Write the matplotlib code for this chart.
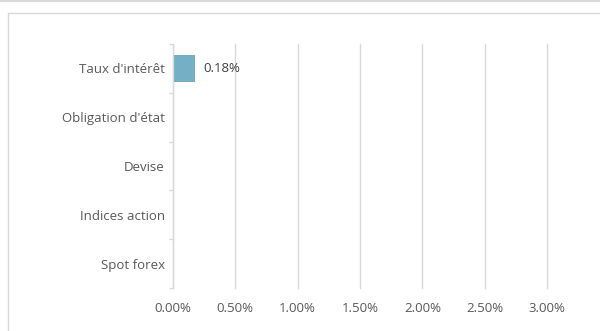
import matplotlib
matplotlib.use("Agg")
import matplotlib.pyplot as plt
from matplotlib.patches import Rectangle
from matplotlib.lines import Line2D
from matplotlib.ticker import FuncFormatter, FixedLocator

categories = ["Taux d'intérêt", "Obligation d'état", "Devise", "Indices action", "Spot forex"]
values = [0.0018, None, None, None, None]
xticks = [0.0, 0.005, 0.01, 0.015, 0.02, 0.025, 0.03]

plt.rcParams['font.family'] = ['Open Sans', 'DejaVu Sans']
txt = '#595959'
grid = '#d9d9d9'
fs = 9.5

fig = plt.figure(figsize=(6.0, 3.31), dpi=100)
# outer chart border
fig.add_artist(Rectangle((8/600, -0.01), 1.2, 1 - 13/331 + 0.01, transform=fig.transFigure,
                         fill=False, edgecolor='#d9d9d9', lw=1.0))
fig.add_artist(Line2D([0, 1], [1 - 0.5/331, 1 - 0.5/331], transform=fig.transFigure, color='#d9d9d9', lw=1.5))

ax = fig.add_axes([173/600, 1 - 288/331, (547 - 173)/600, (288 - 44)/331])
n = len(categories)
ypos = list(range(n))
for y, v in zip(ypos, values):
    if v is not None:
        ax.barh(y, v, height=0.55, color='#75AFC5')
        ax.text(v + 0.0006, y, f"{v*100:.2f}%", va='center', ha='left', fontsize=fs, color='#404040')

ax.set_xlim(0, 0.03)
ax.set_ylim(n - 0.5, -0.5)
ax.set_xticks(xticks)
ax.xaxis.set_major_formatter(FuncFormatter(lambda x, p: f"{x*100:.2f}%"))
ax.grid(axis='x', color=grid, lw=1.0)
ax.set_axisbelow(True)
for gl in ax.get_xgridlines():
    gl.set_clip_on(False)
ax.set_yticks(ypos)
ax.set_yticklabels(categories)
ax.yaxis.set_minor_locator(FixedLocator([i - 0.5 for i in range(n + 1)]))
ax.tick_params(axis='y', which='major', length=0, pad=6, labelsize=fs, labelcolor=txt)
ax.tick_params(axis='y', which='minor', length=3, color=grid, width=0.9)
ax.tick_params(axis='x', length=0, pad=10, labelsize=fs, labelcolor=txt)
for s in ['top', 'right', 'bottom']:
    ax.spines[s].set_visible(False)
ax.spines['left'].set_color(grid)
ax.spines['left'].set_linewidth(0.9)

fig.savefig('out.png', dpi=100)
